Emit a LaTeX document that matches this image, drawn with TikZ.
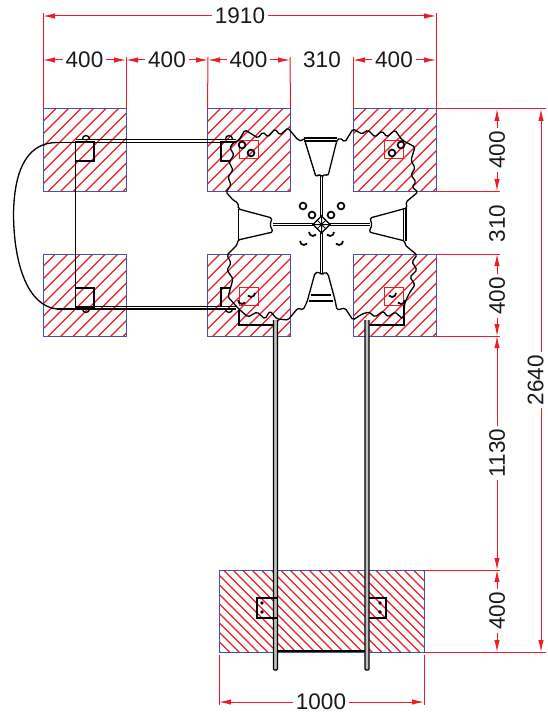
\documentclass[tikz,border=0pt]{standalone}
\usepackage{fontspec}
\setmainfont{Liberation Sans}
\usetikzlibrary{arrows.meta}
\definecolor{dimred}{RGB}{237,28,36}
\definecolor{blockblue}{RGB}{70,80,165}
\begin{document}
\begin{tikzpicture}[x=1pt,y=-1pt,
  block/.style = {draw=blockblue, line width=1pt, inner sep=0pt, outer sep=0pt, path picture={
    \foreach \k in {-207.5,-195,...,210} \draw[dimred, line width=1.2pt] (\k-120,120) -- (\k+120,-120);}},
  plinth/.style = {draw=blockblue, line width=1pt, inner sep=0pt, outer sep=0pt, path picture={
    \foreach \k in {-209,-199.5,...,210} \draw[dimred, line width=1.2pt] (\k-120,-120) -- (\k+120,120);}},
  val/.style = {font=\fontsize{22.5}{22.5}\selectfont, text=black!90, inner sep=3pt},
  ext/.style = {draw=dimred, line width=1pt},
  dim/.style = {draw=dimred, line width=1pt, -{Latex[length=12pt,width=5.5pt]}},
  part/.style = {draw=black, line width=1.3pt},
  wavy/.style = {draw=black, line width=1.3pt, rounded corners=1.6pt},
  bolt/.style = {draw=black, line width=1.7pt}]
\useasboundingbox (0,0) rectangle (548,714);

% foundation blocks
\node[block, minimum width=83pt, minimum height=82pt] (b1) at (84.5,150) {};
\node[block, minimum width=83pt, minimum height=82pt] (b2) at (249,150) {};
\node[block, minimum width=83pt, minimum height=82pt] (b3) at (394.5,150) {};
\node[block, minimum width=83pt, minimum height=82pt] (b4) at (84.5,295) {};
\node[block, minimum width=83pt, minimum height=82pt] (b5) at (249,295) {};
\node[block, minimum width=83pt, minimum height=82pt] (b6) at (394.5,295) {};
\node[plinth, minimum width=205pt, minimum height=82pt] (b7) at (321.5,611) {};

% red squares
\foreach \x/\y in {248.5/150,394/150,248.5/296,394/296}
  \draw[dimred, line width=1pt] (\x-9.5,\y-9) rectangle (\x+9.5,\y+9);

% outline of the top
\draw[wavy] (238.5,209) -- (238,203) -- (233,200) -- (226,192) -- (231,185) -- (228,177) -- (233,170)
  -- (229,162) -- (234,155) -- (230,148) -- (233,143) -- (239,140) -- (245,130) -- (250,133) -- (258,138)
  -- (263,132) -- (268,137) -- (275,129) -- (280,135) -- (288,128) -- (298,140) -- (302,141) -- (304,138)
  -- (316,177) -- (319,174) -- (322,177) -- (325,174) -- (328,176) -- (337,140) -- (340,138) -- (345,142)
  -- (353,129) -- (362,134) -- (368,130) -- (375,137) -- (382,131) -- (387,137) -- (395,130) -- (402,140)
  -- (415,147) -- (411,160) -- (415,168) -- (411,175) -- (416,182) -- (412,187) -- (418,192) -- (406,202)
  -- (407,208) -- (370,218) -- (372,225) -- (369,232) -- (405,241) -- (405,245) -- (417,255) -- (412,262)
  -- (417,270) -- (410,277) -- (415,285) -- (410,292) -- (405,302) -- (403,319) -- (395,312) -- (388,317)
  -- (383,311) -- (375,317) -- (369,312) -- (362,314) -- (353,320) -- (345,308) -- (337,310) -- (335,300)
  -- (328,274) -- (325,272) -- (322,275) -- (319,272) -- (315,273) -- (307,302) -- (303,310) -- (298,308)
  -- (288,320) -- (277,319) -- (270,311) -- (265,319) -- (257,312) -- (248,317) -- (240,310) -- (237,307)
  -- (228,297) -- (233,279) -- (227,270) -- (231,263) -- (227,255) -- (237,245) -- (238,240) -- (273,232)
  -- (270,225) -- (272,218) -- (238.5,209) -- cycle;

% bars and cross
\draw[part] (238.5,209) -- (238.5,240);
\draw[part] (403.5,208) -- (403.5,241) (406,208) -- (406,241);
\draw[part] (304,138) -- (337,138) (304,141) -- (337,141);
\draw[part] (311,295) -- (331,295) (309,301) -- (333,301);
\draw[part] (320.5,176) -- (320.5,216) (322.5,176) -- (322.5,216);
\draw[part] (320.5,233) -- (320.5,273) (322.5,233) -- (322.5,273);
\draw[part] (273,223.5) -- (314,223.5) (273,225.5) -- (314,225.5);
\draw[part] (329,223.5) -- (370,223.5) (329,225.5) -- (370,225.5);
\node[draw, line width=1.3pt, fill=white, rotate=45, minimum size=12pt, inner sep=0pt] (hub) at (321.5,224.5) {};
\draw[part, line width=1pt] (hub.north) -- (hub.south) (hub.east) -- (hub.west) (hub.north west) -- (hub.south east) (hub.north east) -- (hub.south west);

% bolts
\foreach \x/\y in {303/206,312/215,331/215,341/206,242/145,251/153,401/145,392/153}
  \draw[bolt] (\x,\y) circle (3.4pt);
\foreach \x/\y in {313/232,304/241,242/300}
  \draw[bolt] (\x-4,\y) arc[start angle=180, end angle=320, radius=4pt];
\foreach \x/\y in {330/232,339/241,251/293,392/293,401/300}
  \draw[bolt] (\x+4,\y) arc[start angle=0, end angle=-140, radius=4pt];

% chain and guides on the left
\draw[part] (76,139.5) -- (236,139.5) (57,142.5) -- (236,142.5);
\draw[part] (76,306.5) -- (236,306.5) (57,309) -- (236,309);
\draw[part] (57,142.5) .. controls (30,142.5) and (14,165) .. (13.5,215) .. controls (14,265) and (28,306) .. (57,309);
\draw[part] (75.5,161) -- (75.5,288);
\draw[part] (75.5,142) rectangle (94,161);
\draw[part] (75.5,288) rectangle (94,308);
\draw[part] (230,161) -- (221,161) -- (221,142) -- (236,142);
\draw[part] (230,288) -- (221,288) -- (221,307);
\foreach \x in {86,229}
  \draw[part] (\x-3.5,139) arc[start angle=180, end angle=0, radius=3.5pt];
\foreach \x in {86,229}
  \draw[part] (\x-3.5,309) arc[start angle=180, end angle=360, radius=3.5pt];

% long rods and plates
\draw[part] (239,310) -- (239,325) -- (276,325);
\draw[part] (404,305) -- (404,325) -- (367,325);
\foreach \x in {273.5,365} {
  \draw[part, fill=black!25, rounded corners=1pt, line width=1.1pt] (\x,320) -- (\x,670) -- (\x+4,670) -- (\x+4,320);
}
\draw[part] (277,598) -- (257,598) -- (257,618) -- (277,618);
\draw[part] (369,598) -- (386,598) -- (386,618) -- (369,618);
\draw[part] (277,651) -- (365,651);
\foreach \x/\y in {262/603,262/612,380/603,380/612}
  \fill (\x,\y) circle (1.8pt);

% top dimensions
\node[val] (n1910) at (240,16) {1910};
\node[val] (n400a) at (84.5,60) {400};
\node[val] (n400b) at (167,60) {400};
\node[val] (n400c) at (248.5,60) {400};
\node[val] (n310a) at (322,60) {310};
\node[val] (n400d) at (394,60) {400};
\draw[ext] (43,13) -- (b1.north west);
\draw[ext] (126,57) -- (b1.north east);
\draw[ext] (208,57) -- (b2.north west);
\draw[ext] (290,57) -- (b2.north east);
\draw[ext] (353,57) -- (b3.north west);
\draw[ext] (436,13) -- (b3.north east);
\coordinate (t1) at (43,16);
\coordinate (t2) at (436,16);
\draw[dim] (n1910) -- (t1);
\draw[dim] (n1910) -- (t2);
\foreach \lab/\xa/\xb in {n400a/43/126,n400b/126/208,n400c/208/290,n400d/353/436} {
  \draw[dim] (\lab) -- (\xa,60);
  \draw[dim] (\lab) -- (\xb,60);
}

% right dimensions
\draw[ext] (b3.north east) -- (546,109);
\draw[ext] (b3.south east) -- (500,191);
\draw[ext] (b6.north east) -- (500,254);
\draw[ext] (b6.south east) -- (500,336);
\draw[ext] (b7.north east) -- (500,570);
\draw[ext] (b7.south east) -- (546,652);
\node[val, rotate=90] (n400e) at (497,150) {400};
\node[val, rotate=90] (n310b) at (497,223.5) {310};
\node[val, rotate=90] (n400f) at (497,296) {400};
\node[val, rotate=90] (n1130) at (497,453) {1130};
\node[val, rotate=90] (n400g) at (497,611) {400};
\node[val, rotate=90] (n2640) at (535.5,380) {2640};
\foreach \lab/\ya/\yb in {n400e/109/191,n400f/254/336,n1130/336/570,n400g/570/652} {
  \draw[dim] (\lab) -- (497,\ya);
  \draw[dim] (\lab) -- (497,\yb);
}
\coordinate (r1) at (541,109);
\coordinate (r2) at (541,652);
\coordinate (r3) at (541,352);
\coordinate (r4) at (541,408);
\draw[dim] (r3) -- (r1);
\draw[dim] (r4) -- (r2);

% bottom dimension
\node[val] (n1000) at (321,702) {1000};
\draw[ext] (b7.south west) ++(0,3) -- (219,705);
\draw[ext] (b7.south east) ++(0,3) -- (424,705);
\draw[dim] (n1000) -- (219,702);
\draw[dim] (n1000) -- (424,702);
\end{tikzpicture}
\end{document}
